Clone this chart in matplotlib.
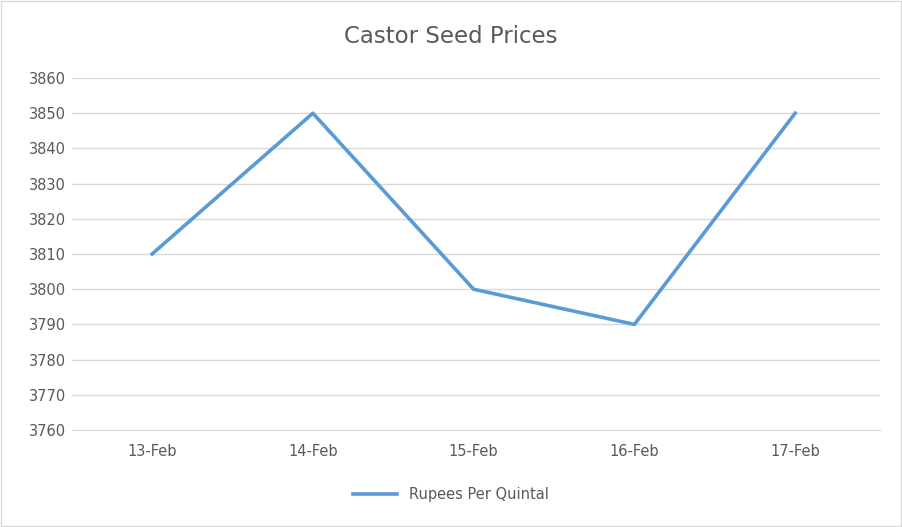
import matplotlib
matplotlib.use('Agg')
import matplotlib.pyplot as plt

dates = ['13-Feb', '14-Feb', '15-Feb', '16-Feb', '17-Feb']
prices = [3810, 3850, 3800, 3790, 3850]
yticks = list(range(3760, 3861, 10))

fig = plt.figure(figsize=(9.02, 5.27), dpi=100)
ax = fig.add_axes([0.0795, 0.184, 0.8965, 0.668])

line, = ax.plot(range(len(dates)), prices, color='#5B9BD5', linewidth=2.6,
                solid_joinstyle='round', label='Rupees Per Quintal')

ax.set_xlim(-0.5, len(dates) - 0.47)
ax.set_ylim(3760, 3860)
ax.set_yticks(yticks)
ax.set_xticks(range(len(dates)))
ax.set_xticklabels(dates)
ax.grid(axis='y', color='#D9D9D9', linewidth=1)
ax.set_axisbelow(True)
for s in ['top', 'right', 'left']:
    ax.spines[s].set_visible(False)
ax.spines['bottom'].set_color('#D9D9D9')
ax.tick_params(length=0, colors='#595959', labelsize=10.5)
ax.tick_params(axis='x', pad=10)
ax.tick_params(axis='y', pad=4)

fig.text(0.5, 0.93, 'Castor Seed Prices', ha='center', va='center',
         fontsize=16.5, color='#595959')

fig.legend(handles=[line], loc='center', bbox_to_anchor=(0.5, 0.062),
           frameon=False, fontsize=10.5, labelcolor='#595959',
           handlelength=3)

# gray outer border
fig.patches.append(plt.Rectangle((0.001, 0.001), 0.998, 0.997,
                                 transform=fig.transFigure, fill=False,
                                 edgecolor='#D9D9D9', linewidth=1))

plt.savefig('out.png', dpi=100)
